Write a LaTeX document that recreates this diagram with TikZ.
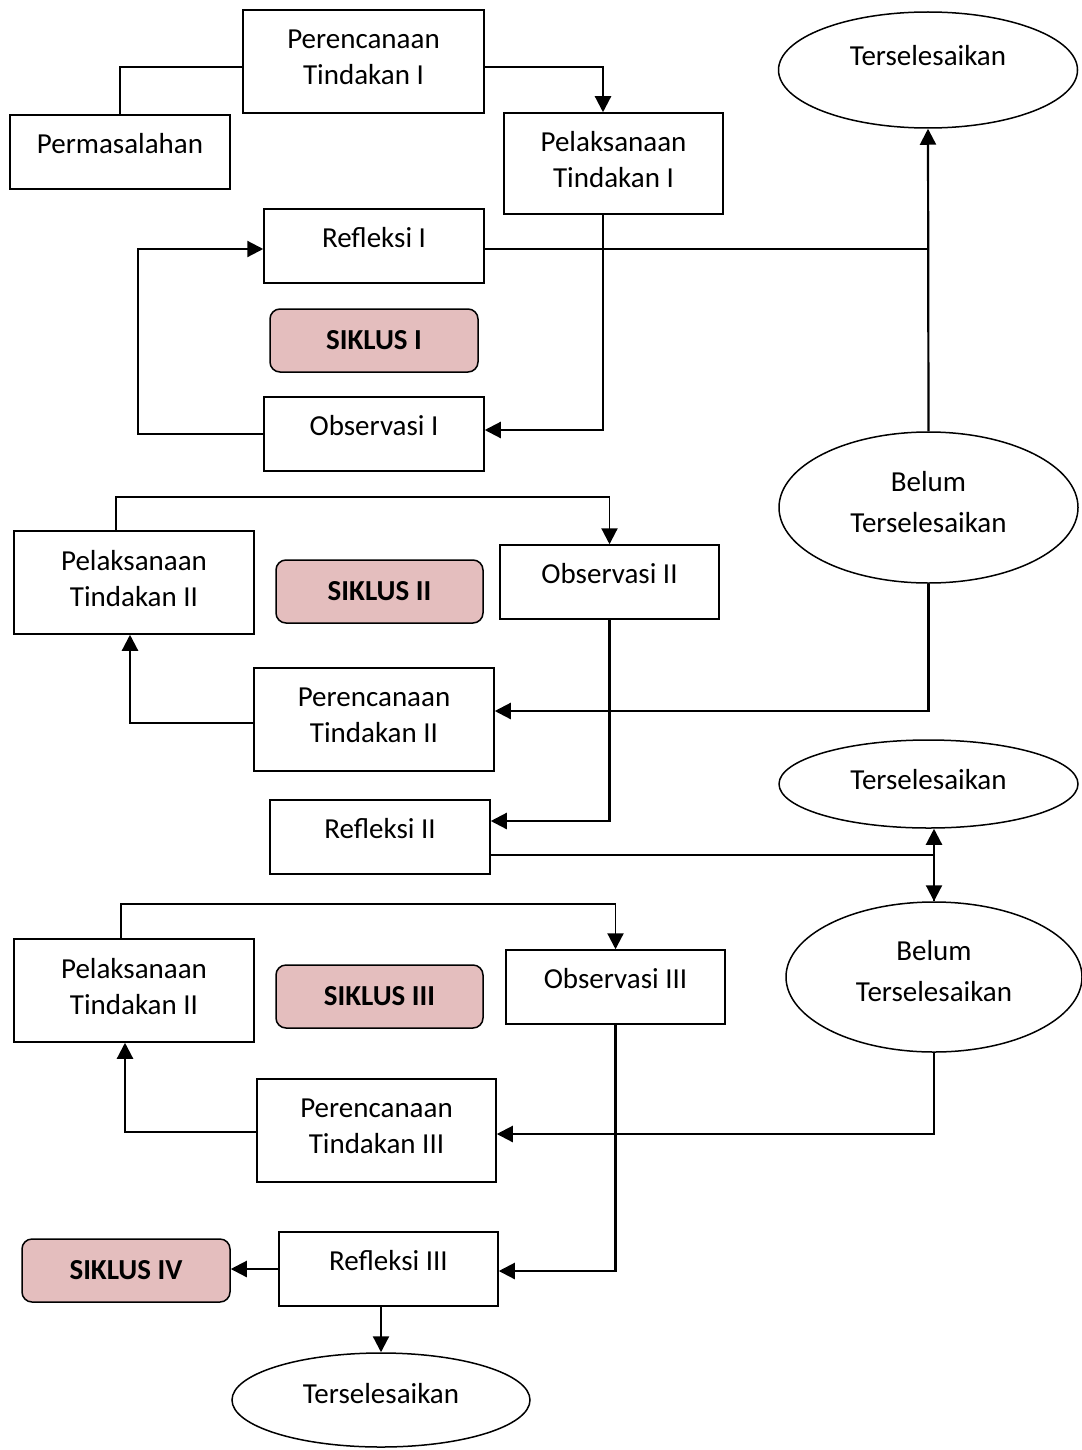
\documentclass[tikz,border=0pt]{standalone}
\usepackage{fontspec}
\setmainfont{Carlito}
\usepackage{xcolor}
\usepackage{tikz}
\usetikzlibrary{arrows.meta}
\usetikzlibrary{shapes.geometric}
\definecolor{siklusfill}{RGB}{228,190,190}

\begin{document}
\begin{tikzpicture}[x=0.5pt,y=-0.5pt,
    every node/.style={font=\fontsize{14.5}{18}\selectfont},
    box/.style={draw,line width=0.75pt,align=center,inner sep=0pt},
    onebox/.style={box,minimum height=37pt,text depth=8.5pt},
    twobox/.style={box,minimum width=120pt,minimum height=51.5pt,
      execute at end node={\rule[-4.5pt]{0pt}{0pt}}},
    siklus/.style={draw,line width=0.75pt,rounded corners=5pt,fill=siklusfill,
      minimum width=104pt,minimum height=31.5pt,inner sep=0pt,
      font=\fontsize{14.5}{18}\selectfont\bfseries},
    oval/.style={draw,ellipse,line width=0.75pt,align=center,inner sep=0pt,
      font=\fontsize{14.5}{20.5}\selectfont},
    twooval/.style={oval,execute at end node={\rule[-6pt]{0pt}{0pt}}},
    line/.style={line width=0.8pt},
    arr/.style={line width=1.1pt,-{Triangle[length=8pt,width=8pt]}},
    dbl/.style={line width=1.1pt,{Triangle[length=8pt,width=8pt]}-{Triangle[length=8pt,width=8pt]}}]
      \useasboundingbox (0,0) rectangle (1081,1450);

      \node[twobox,minimum width=120.5pt] (pt1) at (363.5,61.5) {Perencanaan\\Tindakan I};
      \node[onebox,minimum width=110pt] (perm) at (120,152) {Permasalahan};
      \node[twobox,minimum width=109.5pt,minimum height=50.5pt] (pl1) at (613.5,163.5) {Pelaksanaan\\Tindakan I};
      \node[onebox,minimum width=110pt] (rf1) at (374,246) {Refleksi I};
      \node[siklus] (s1) at (374,340.5) {SIKLUS I};
      \node[onebox,minimum width=110pt] (ob1) at (374,434) {Observasi I};
      \node[oval,minimum width=149.5pt,minimum height=58pt,text depth=14.5pt] (ts1) at (928,70) {Terselesaikan};
      \node[twooval,minimum width=149.5pt,minimum height=75.5pt] (bt1) at (928.5,507.5) {Belum\\Terselesaikan};

      \node[twobox] (pl2) at (134,582.5) {Pelaksanaan\\Tindakan II};
      \node[siklus,minimum width=103.5pt] (s2) at (379.5,591.5) {SIKLUS II};
      \node[onebox,minimum width=109.5pt] (ob2) at (609.5,582) {Observasi II};
      \node[twobox] (pt2) at (374,719.5) {Perencanaan\\Tindakan II};
      \node[onebox,minimum width=110pt] (rf2) at (380,837) {Refleksi II};
      \node[oval,minimum width=149.5pt,minimum height=44pt,text depth=4.5pt] (ts2) at (928.5,784) {Terselesaikan};
      \node[twooval,minimum width=148pt,minimum height=75pt] (bt2) at (934,977) {Belum\\Terselesaikan};

      \node[twobox] (pl3) at (134,990.5) {Pelaksanaan\\Tindakan II};
      \node[siklus,minimum width=103.5pt] (s3) at (379.5,996.5) {SIKLUS III};
      \node[onebox,minimum width=109.5pt] (ob3) at (615.5,987) {Observasi III};
      \node[twobox,minimum width=119.5pt] (pt3) at (376.5,1130.5) {Perencanaan\\Tindakan III};
      \node[onebox,minimum width=109.5pt] (rf3) at (388.5,1269) {Refleksi III};
      \node[siklus] (s4) at (126,1270.5) {SIKLUS IV};
      \node[oval,minimum width=149pt,minimum height=47pt,text depth=6.5pt] (ts3) at (381,1400) {Terselesaikan};

      \draw[line] (perm.north) |- ([yshift=-2.75pt]pt1.west);
      \draw[arr] ([yshift=-2.75pt]pt1.east) -| ([xshift=-5.25pt]pl1.north);
      \draw[arr] ([xshift=-5.25pt]pl1.south) |- ([yshift=2pt]ob1.east);
      \draw[arr] (ob1.west) -- ++(-125,0) |- ([yshift=-1.5pt]rf1.west);
      \draw[line] ([yshift=-1.5pt]rf1.east) -| (bt1.north);
      \draw[arr] (bt1.north) -- (ts1.south);

      \draw[line] ([xshift=-9pt]pl2.north) -- ++(0,-33) -| ([yshift=4pt]ob2.north);
      \draw[arr] ([yshift=4pt]ob2.north) -- (ob2.north);
      \draw[arr] ([yshift=-1.75pt]pt2.west) -| ([xshift=-2pt]pl2.south);
      \draw[arr] (bt1.south) |- ([yshift=4.25pt]pt2.east);
      \draw[arr] (ob2.south) |- ([yshift=8pt]rf2.east);
      \draw[line] ([yshift=-9pt]rf2.east) -| (bt2.north);
      \draw[dbl] (bt2.north) -- (bt2.north |- ts2.south);

      \draw[line] ([xshift=-6.5pt]pl3.north) -- ++(0,-34) -| ([yshift=4pt]ob3.north);
      \draw[arr] ([yshift=4pt]ob3.north) -- (ob3.north);
      \draw[arr] ([yshift=-0.75pt]pt3.west) -| ([xshift=-4.5pt]pl3.south);
      \draw[arr] (bt2.south) |- ([yshift=-1.75pt]pt3.east);
      \draw[arr] (ob3.south) |- ([yshift=-1pt]rf3.east);
      \draw[arr] (rf3.west) -- (rf3.west -| s4.east);
      \draw[arr] (ts3.north |- rf3.south) -- (ts3.north);
    \end{tikzpicture}
\end{document}
